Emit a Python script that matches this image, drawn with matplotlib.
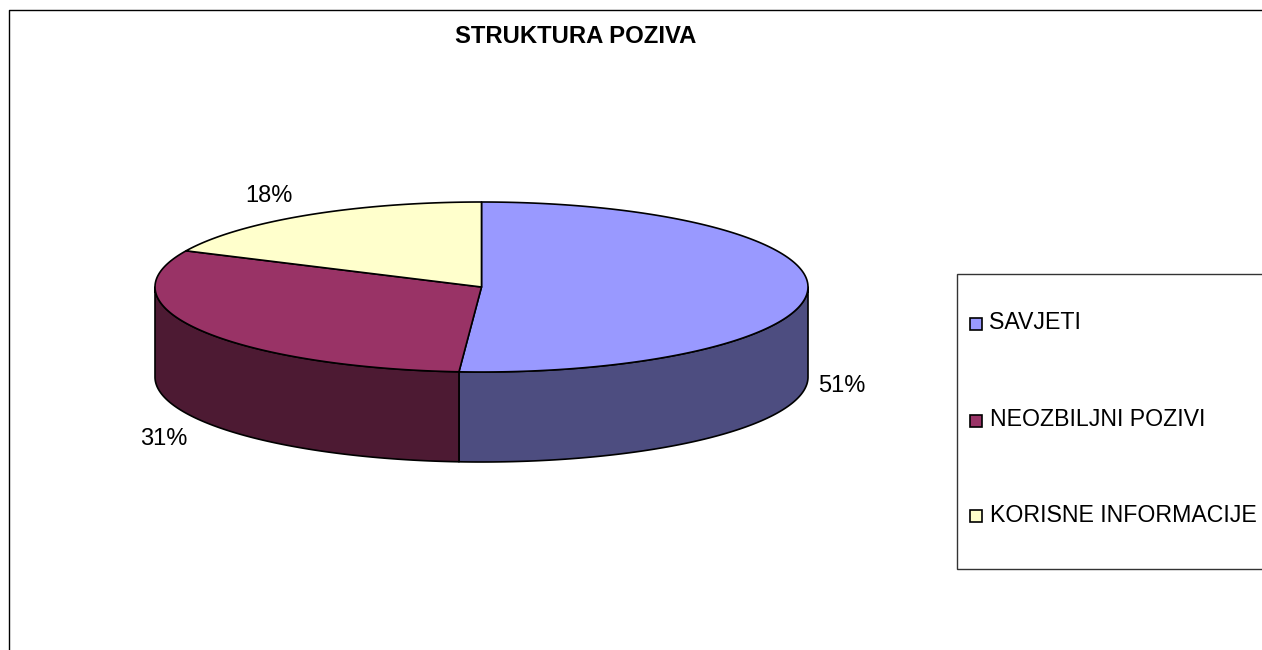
import numpy as np
import matplotlib
matplotlib.use("Agg")
import matplotlib.pyplot as plt
from matplotlib.patches import Polygon, Rectangle

labels = ["SAVJETI", "NEOZBILJNI POZIVI", "KORISNE INFORMACIJE"]
values = [51.1, 30.9, 18.0]
top_colors = ["#9999FF", "#993366", "#FFFFCC"]
side_colors = ["#4D4D80", "#4D1A33", "#808066"]

plt.rcParams['font.family'] = ['Liberation Sans', 'DejaVu Sans']

W, H = 1262, 650
fig = plt.figure(figsize=(W / 100, H / 100), dpi=100)
ax = fig.add_axes([0, 0, 1, 1])
ax.set_xlim(0, W)
ax.set_ylim(H, 0)
ax.axis("off")

# outer chart frame, runs off the right and bottom edges
ax.plot([9, 9, W], [H, 10, 10], color="black", lw=1)

cx, cy, rx, ry, depth = 481.5, 287, 326.5, 85, 90


def rim(a0, a1, n=200):
    t = np.radians(np.linspace(a0, a1, n))
    return cx + rx * np.sin(t), cy - ry * np.cos(t)


fracs = np.array(values) / sum(values)
edges = np.concatenate([[0], np.cumsum(fracs) * 360])

# side walls first, only the front half of the rim shows
for i in range(len(values)):
    a0, a1 = max(edges[i], 90), min(edges[i + 1], 270)
    if a1 <= a0:
        continue
    x, y = rim(a0, a1)
    pts = np.column_stack([np.r_[x, x[::-1]], np.r_[y, y[::-1] + depth]])
    ax.add_patch(Polygon(pts, closed=True, fc=side_colors[i], ec="black", lw=1.2, joinstyle="round"))

# top faces
for i in range(len(values)):
    x, y = rim(edges[i], edges[i + 1])
    pts = np.column_stack([np.r_[cx, x], np.r_[cy, y]])
    ax.add_patch(Polygon(pts, closed=True, fc=top_colors[i], ec="black", lw=1.2, joinstyle="round"))

ax.text(576, 36.5, "STRUKTURA POZIVA", ha="center", va="center", fontsize=17.2, fontweight="bold")

# data labels
pct_pos = [(842, 386), (164, 439), (269, 196)]
for v, (px, py) in zip(values, pct_pos):
    ax.text(px, py, "%.0f%%" % v, ha="center", va="center", fontsize=17)

# legend box
ax.add_patch(Rectangle((957, 274), W - 956, 294.5, fc="white", ec="#333333", lw=1))
leg_y = [323.5, 421, 516]
text_y = [322.5, 420, 515]
for name, col, ly, ty in zip(labels, top_colors, leg_y, text_y):
    ax.add_patch(Rectangle((969.5, ly - 6), 12, 12, fc=col, ec="black", lw=1.2))
    ax.text(989.5, ty, name, ha="left", va="center", fontsize=16.7)

fig.savefig("out.png", dpi=100)
